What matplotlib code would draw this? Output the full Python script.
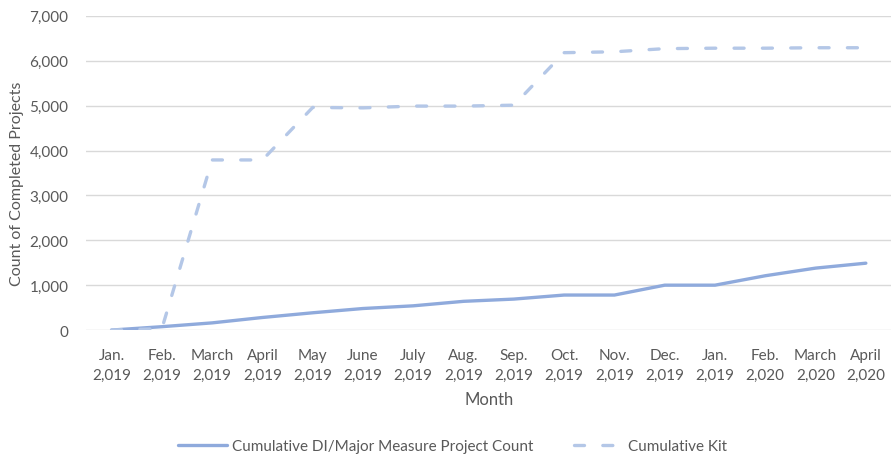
import numpy as np
import matplotlib
matplotlib.use('Agg')
import matplotlib.pyplot as plt
from matplotlib.ticker import FuncFormatter

# month labels as shown on the chart (Excel formatted the year with a comma)
MONTHS = ["Jan.\n2,019", "Feb.\n2,019", "March\n2,019", "April\n2,019",
          "May\n2,019", "June\n2,019", "July\n2,019", "Aug.\n2,019",
          "Sep.\n2,019", "Oct.\n2,019", "Nov.\n2,019", "Dec.\n2,019",
          "Jan.\n2,019", "Feb.\n2,020", "March\n2,020", "April\n2,020"]

DI_MAJOR = [0, 75, 160, 280, 385, 480, 540, 640, 690, 780, 780, 1000,
            1000, 1210, 1380, 1490]
KIT = [0, 30, 3790, 3790, 4960, 4950, 4990, 4990, 5010, 6180, 6200, 6270,
       6280, 6280, 6290, 6290]

plt.rcParams['font.family'] = ['Lato', 'DejaVu Sans']
TXT = '#595959'

fig = plt.figure(figsize=(8.91, 4.56), dpi=100)
ax = fig.add_axes([0.097, 0.274, 0.903, 0.689])

x = np.arange(len(MONTHS))
ax.plot(x, DI_MAJOR, color='#8faadc', linewidth=2.4,
        solid_capstyle='round', label='Cumulative DI/Major Measure Project Count')
ax.plot(x, KIT, color='#b4c7e7', linewidth=2.4, linestyle=(0, (3, 5.5)),
        dash_capstyle='round', label='Cumulative Kit')

ax.set_xlim(-0.5, len(MONTHS) - 0.5)
ax.set_ylim(0, 7000)
ax.set_yticks(np.arange(0, 7001, 1000))
ax.yaxis.set_major_formatter(FuncFormatter(lambda v, p: f"{int(v):,}"))
ax.set_xticks(x)
ax.set_xticklabels(MONTHS, linespacing=1.5)

ax.grid(axis='y', color='#d9d9d9', linewidth=1)
ax.set_axisbelow(True)
for s in ax.spines.values():
    s.set_visible(False)
ax.tick_params(axis='both', length=0, labelsize=11, colors=TXT)
ax.tick_params(axis='y', pad=13)
ax.tick_params(axis='x', pad=13)

ax.set_xlabel("Month", fontsize=12, color=TXT, labelpad=7)
ax.set_ylabel("Count of Completed Projects", fontsize=11.5, color=TXT, labelpad=14)
ax.yaxis.set_label_coords(-0.077, 0.47)

leg = fig.legend(loc='center', bbox_to_anchor=(0.508, 0.02), ncol=2,
                 frameon=False, fontsize=11, handlelength=3.2,
                 handletextpad=0.3, columnspacing=2.7)
for t in leg.get_texts():
    t.set_color(TXT)

fig.savefig('out.png', dpi=100)
